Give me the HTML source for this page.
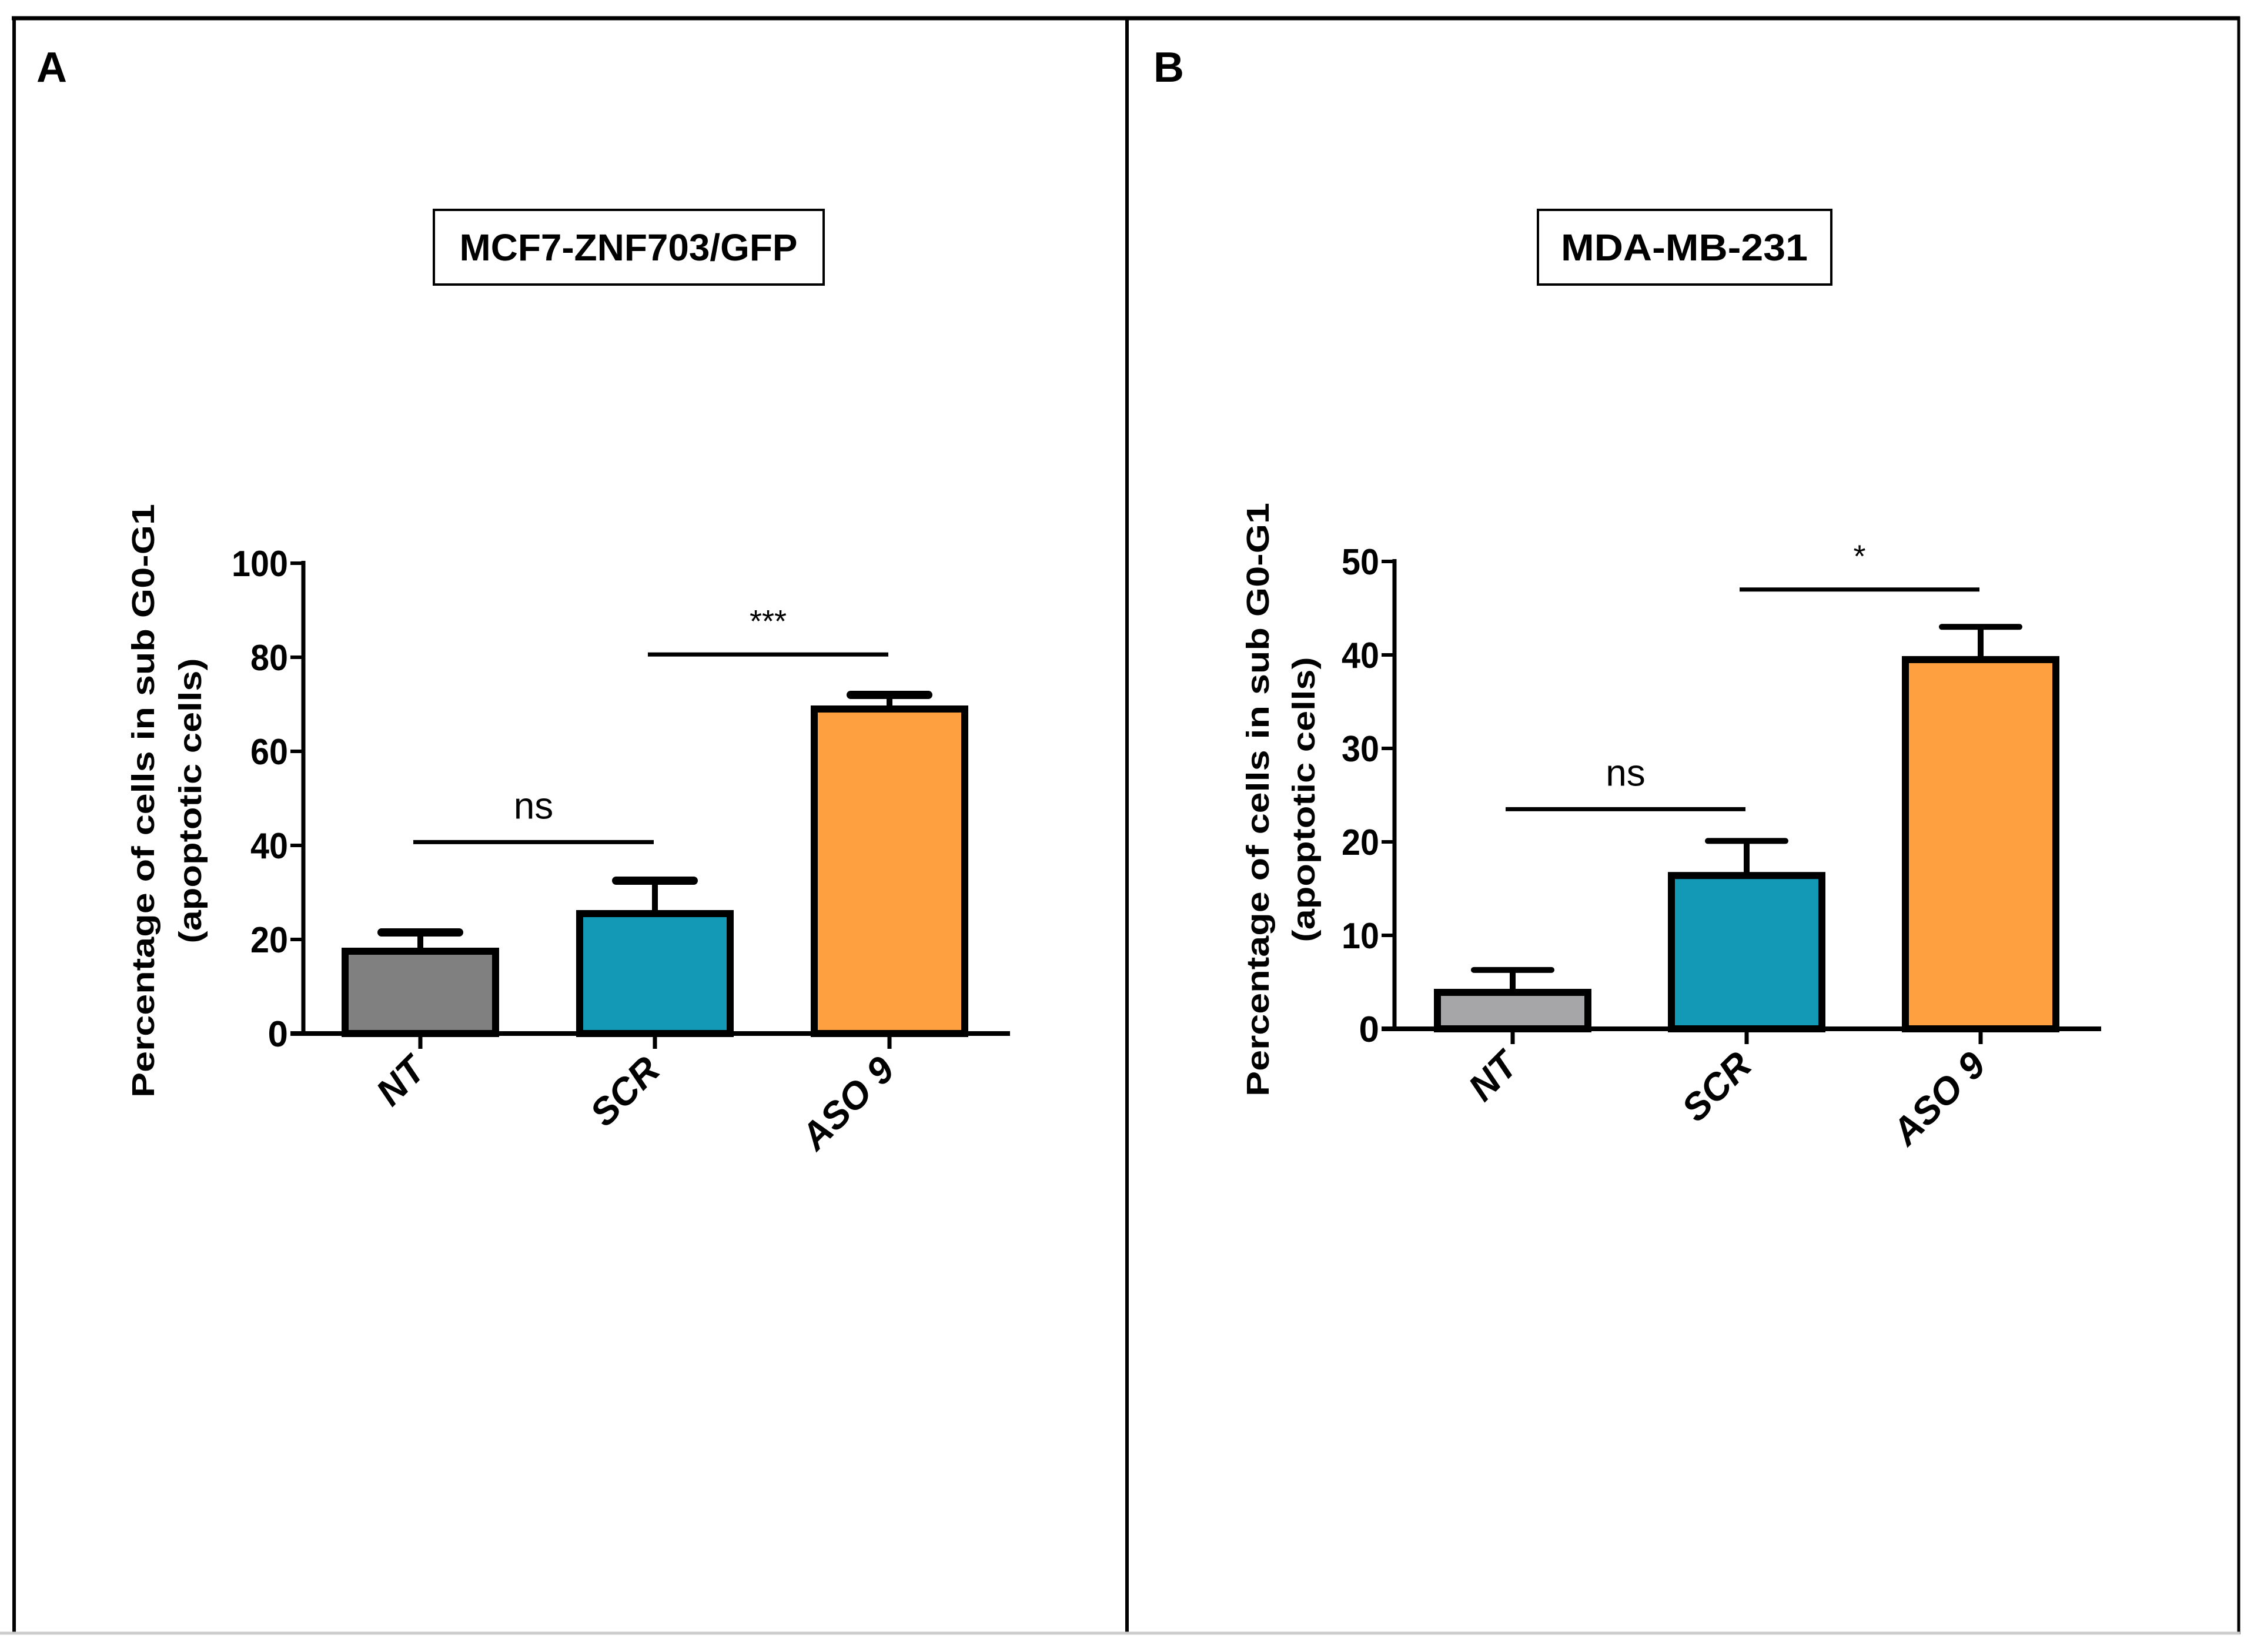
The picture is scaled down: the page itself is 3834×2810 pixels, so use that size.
<!DOCTYPE html>
<html><head><meta charset="utf-8"><style>html,body{margin:0;padding:0;background:#fff}svg{display:block}</style></head>
<body>
<svg id="fig" width="3834" height="2810" viewBox="0 0 3834 2810" xmlns="http://www.w3.org/2000/svg">
<rect x="0" y="0" width="3834" height="2810" fill="#fff"/>
<line x1="20" y1="31" x2="3810" y2="31" stroke="#000" stroke-width="7"/>
<line x1="24" y1="28" x2="24" y2="2780" stroke="#000" stroke-width="6"/>
<line x1="1917" y1="28" x2="1917" y2="2780" stroke="#000" stroke-width="6"/>
<line x1="3808" y1="28" x2="3808" y2="2780" stroke="#000" stroke-width="5"/>
<line x1="0" y1="2778" x2="3810" y2="2778" stroke="#ccc" stroke-width="5"/>
<text x="62" y="139" font-family="Liberation Sans, sans-serif" font-weight="bold" font-size="72">A</text>
<text x="1962" y="139" font-family="Liberation Sans, sans-serif" font-weight="bold" font-size="72">B</text>
<rect x="738" y="357" width="663" height="127" fill="#fff" stroke="#000" stroke-width="4"/>
<text x="1069" y="443" text-anchor="middle" font-family="Liberation Sans, sans-serif" font-weight="bold" font-size="64" textLength="575" lengthAdjust="spacingAndGlyphs">MCF7-ZNF703/GFP</text>
<rect x="2616" y="357" width="499" height="127" fill="#fff" stroke="#000" stroke-width="4"/>
<text x="2865" y="443" text-anchor="middle" font-family="Liberation Sans, sans-serif" font-weight="bold" font-size="64" textLength="420" lengthAdjust="spacingAndGlyphs">MDA-MB-231</text>
<g id="chartA"></g>
<g id="chartB"></g>
</svg>
<script>
const categories = ["NT", "SCR", "ASO 9"];
const valuesA = [17.5, 25.5, 69];
const errorsA = [21.5, 32.5, 72];
const ticksA = [0, 20, 40, 60, 80, 100];
const valuesB = [3.9, 16.4, 39.5];
const errorsB = [6.3, 20.1, 43];
const ticksB = [0, 10, 20, 30, 40, 50];
const sigA = [[0, 1, 40.7, "ns"], [1, 2, 80.6, "***"]];
const sigB = [[0, 1, 23.5, "ns"], [1, 2, 47, "*"]];
const colorsA = ["#808080", "#1398b5", "#ffa040"];
const colorsB = ["#a6a6a8", "#1398b5", "#ffa040"];

const NS = "http://www.w3.org/2000/svg";
function mk(parent, tag, attrs, text) {
  const e = document.createElementNS(NS, tag);
  for (const k in attrs) e.setAttribute(k, attrs[k]);
  if (text !== undefined) e.textContent = text;
  parent.appendChild(e);
  return e;
}

function drawChart(g, cfg, values, errors, ticks, sig, colors) {
  const ymax = ticks[ticks.length - 1];
  const y = v => cfg.y0 - (v / ymax) * (cfg.y0 - cfg.yTop);
  const x = i => cfg.xFirst + i * cfg.step;
  const bw = 256;
  const font = "Liberation Sans, sans-serif";

  const lab1 = mk(g, "text", {x: 0, y: 0, transform: `translate(${cfg.labX1},${cfg.labY}) rotate(-90)`, "text-anchor": "middle", "font-family": font, "font-weight": "bold", "font-size": 54, textLength: 1010, lengthAdjust: "spacingAndGlyphs"}, "Percentage of cells in sub G0-G1");
  
  
  const lab2 = mk(g, "text", {x: 0, y: 0, transform: `translate(${cfg.labX2},${cfg.labY}) rotate(-90)`, "text-anchor": "middle", "font-family": font, "font-weight": "bold", "font-size": 54, textLength: 485, lengthAdjust: "spacingAndGlyphs"}, "(apoptotic cells)");
  
  

  values.forEach((v, i) => {
    const cx = x(i);
    const r = mk(g, "rect", {x: cx - bw / 2, y: y(v), width: bw, height: cfg.y0 - y(v), fill: colors[i], stroke: "#000", "stroke-width": 12});
    
    
    const st = mk(g, "line", {x1: cx, y1: y(v), x2: cx, y2: y(errors[i]), stroke: "#000", "stroke-width": 10});
    
    
    const cp = mk(g, "line", {x1: cx - 66, y1: y(errors[i]), x2: cx + 66, y2: y(errors[i]), stroke: "#000", "stroke-width": cfg.capW, "stroke-linecap": "round"});
    
    
    const tk = mk(g, "line", {x1: cx, y1: cfg.y0, x2: cx, y2: cfg.y0 + 26, stroke: "#000", "stroke-width": 7});
    
    
    const tl = mk(g, "text", {x: 0, y: 0, transform: `translate(${cx + 12},${cfg.y0 + 66}) rotate(-45)`, "text-anchor": "end", "font-family": font, "font-weight": "bold", "font-style": "italic", "font-size": 64}, categories[i]);
    
    
  });

  const ya = mk(g, "line", {x1: cfg.xAxis, y1: cfg.yTop - 4, x2: cfg.xAxis, y2: cfg.y0 + 4, stroke: "#000", "stroke-width": 7});
  
  
  const xa = mk(g, "line", {x1: cfg.xAxis - 22, y1: cfg.y0, x2: cfg.xEnd, y2: cfg.y0, stroke: "#000", "stroke-width": 8});
  
  
  ticks.forEach(t => {
    const l = mk(g, "line", {x1: cfg.xAxis - 22, y1: y(t), x2: cfg.xAxis, y2: y(t), stroke: "#000", "stroke-width": 6});
    
    
    const s = String(t);
    const attrs = {x: cfg.xAxis - 26, y: y(t) + 22, "text-anchor": "end", "font-family": font, "font-weight": "bold", "font-size": 62};
    if (s.length > 1) { attrs.textLength = s.length * 32; attrs.lengthAdjust = "spacingAndGlyphs"; }
    const tx = mk(g, "text", attrs, s);
    
    
  });

  sig.forEach(s => {
    const x1 = x(s[0]) - 12, x2 = x(s[1]) - 2, yy = y(s[2]);
    const l = mk(g, "line", {x1: x1, y1: yy, x2: x2, y2: yy, stroke: "#000", "stroke-width": 7});
    
    
    const big = s[3] === "ns";
    const t = mk(g, "text", {x: (x1 + x2) / 2, y: yy - (big ? 40 : 38), "text-anchor": "middle", "font-family": font, "font-size": big ? 64 : 54}, s[3]);
    
    
  });
}

drawChart(document.getElementById("chartA"),
  {y0: 1758, yTop: 958, xAxis: 516, xEnd: 1718, xFirst: 715, step: 399, labX1: 262, labX2: 342, labY: 1362, capW: 14},
  valuesA, errorsA, ticksA, sigA, colorsA);
drawChart(document.getElementById("chartB"),
  {y0: 1750, yTop: 955, xAxis: 2372, xEnd: 3574, xFirst: 2573, step: 398, labX1: 2158, labX2: 2236, labY: 1360, capW: 10},
  valuesB, errorsB, ticksB, sigB, colorsB);
</script>
</body></html>
